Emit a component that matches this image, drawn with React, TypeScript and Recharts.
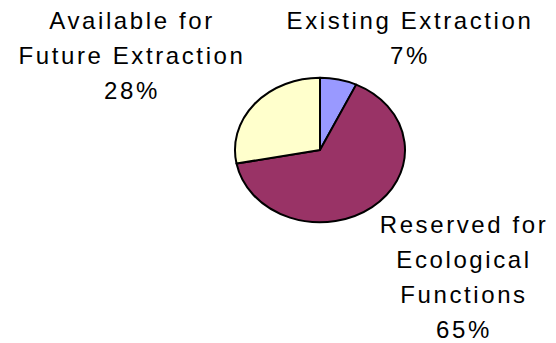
import React from 'react';
import { PieChart, Pie, Cell } from 'recharts';

const categories = ['Existing Extraction', 'Reserved for Ecological Functions', 'Available for Future Extraction'];
const shares = [7, 65, 28];
const labelLines = [['Existing Extraction'], ['Reserved for', 'Ecological', 'Functions'], ['Available for', 'Future Extraction']];

const colors = ['#9999FF', '#993366', '#FFFFCC'];
// label block anchors: centre x, first baseline y
const labelAnchor = [
  { x: 410, y: 29 },
  { x: 464, y: 233 },
  { x: 132, y: 29 },
];
const LINE = 35;
const FLATTEN = 0.85;

const data = categories.map((name, i) => ({ name, value: shares[i] }));

const RAD = Math.PI / 180;

// elliptical sector, the original chart is a slightly flattened pie
const EllipseSector = (props: any) => {
  const { cx, cy, outerRadius, startAngle, endAngle, fill } = props;
  const rx = outerRadius;
  const ry = outerRadius * FLATTEN;
  const x1 = cx + rx * Math.cos(startAngle * RAD);
  const y1 = cy - ry * Math.sin(startAngle * RAD);
  const x2 = cx + rx * Math.cos(endAngle * RAD);
  const y2 = cy - ry * Math.sin(endAngle * RAD);
  const large = Math.abs(startAngle - endAngle) > 180 ? 1 : 0;
  const sweep = startAngle > endAngle ? 1 : 0;
  const d = `M ${cx} ${cy} L ${x1} ${y1} A ${rx} ${ry} 0 ${large} ${sweep} ${x2} ${y2} Z`;
  return <path d={d} fill={fill} stroke="#000" strokeWidth={2} strokeLinejoin="round" />;
};

const renderLabel = (props: any) => {
  const { index, percent } = props;
  const a = labelAnchor[index];
  const lines = [...labelLines[index], `${Math.round(percent * 100)}%`];
  return (
    <text
      x={a.x}
      y={a.y}
      textAnchor="middle"
      fill="#000"
      fontSize={24}
      letterSpacing={2.6}
      fontFamily="'Liberation Sans', Arial, sans-serif"
    >
      {lines.map((t, i) => (
        <tspan key={i} x={a.x} y={a.y + i * LINE}>{t}</tspan>
      ))}
    </text>
  );
};

export default function App() {
  return (
    <div style={{ position: 'absolute', left: 0, top: 0, width: 556, height: 343, background: '#fff' }}>
      <PieChart width={556} height={343} margin={{ top: 0, right: 0, bottom: 0, left: 0 }}>
        <Pie
          data={data}
          dataKey="value"
          nameKey="name"
          cx={320}
          cy={150}
          outerRadius={85}
          startAngle={90}
          endAngle={-270}
          shape={EllipseSector}
          label={renderLabel}
          labelLine={false}
          isAnimationActive={false}
        >
          {data.map((d, i) => (
            <Cell key={d.name} fill={colors[i]} />
          ))}
        </Pie>
      </PieChart>
    </div>
  );
}
